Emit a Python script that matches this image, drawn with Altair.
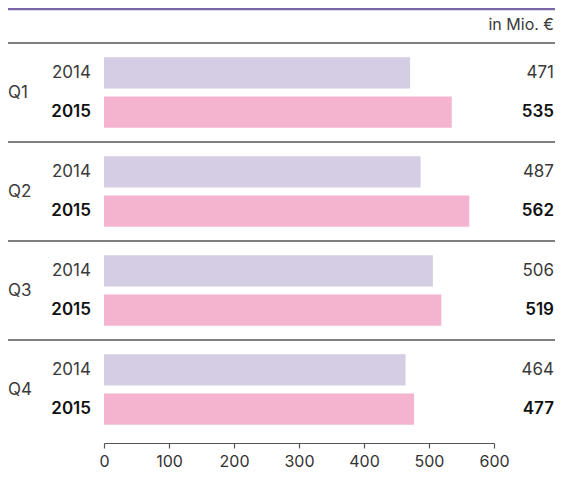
import altair as alt
import pandas as pd

quarters = ["Q1", "Q2", "Q3", "Q4"]
years = ["2014", "2015"]
v2014 = [471, 487, 506, 464]
v2015 = [535, 562, 519, 477]
unit_label = "in Mio. €"
x_ticks = [0, 100, 200, 300, 400, 500, 600]

rows = []
for q, a, b in zip(quarters, v2014, v2015):
    rows.append({"quarter": q, "year": "2014", "value": a})
    rows.append({"quarter": q, "year": "2015", "value": b})
df = pd.DataFrame(rows)
qdf = pd.DataFrame({"quarter": quarters})

FONT = "Inter"
W, H = 547, 435
RX = 546

yscale = alt.Scale(domain=quarters, range=[35, 431], paddingInner=0, paddingOuter=0)
yoff = alt.YOffset("year:N", scale=alt.Scale(domain=years, paddingInner=0.205, paddingOuter=0.36))

base = alt.Chart(df)

bars = base.mark_bar().encode(
    x=alt.X("value:Q", scale=alt.Scale(domain=[0, 600], range=[96, 486], nice=False),
            axis=alt.Axis(values=x_ticks, title=None, grid=False, domainColor="#555",
                          tickColor="#555", tickSize=5, labelFont=FONT, labelFontSize=16,
                          labelColor="#333", labelPadding=5, domainWidth=1.2, tickWidth=1.2,
                          labelFlush=False)),
    y=alt.Y("quarter:N", scale=yscale, axis=None),
    yOffset=yoff,
    color=alt.Color("year:N", scale=alt.Scale(domain=years, range=["#d4cde4", "#f4b4d0"]), legend=None),
)

def year_text(yr, weight, color):
    return base.transform_filter(alt.datum.year == yr).mark_text(
        align="right", baseline="middle", font=FONT, fontSize=17, fontWeight=weight, color=color
    ).encode(
        x=alt.value(83),
        y=alt.Y("quarter:N", scale=yscale, axis=None),
        yOffset=yoff,
        text="year:N",
    )

def value_text(yr, weight, color):
    return base.transform_filter(alt.datum.year == yr).mark_text(
        align="right", baseline="middle", font=FONT, fontSize=17, fontWeight=weight, color=color
    ).encode(
        x=alt.value(RX),
        y=alt.Y("quarter:N", scale=yscale, axis=None),
        yOffset=yoff,
        text="value:Q",
    )

qlabels = alt.Chart(qdf).mark_text(
    align="left", baseline="middle", font=FONT, fontSize=17, color="#3a3a3a"
).encode(
    x=alt.value(0),
    y=alt.Y("quarter:N", scale=yscale, axis=None),
    text="quarter:N",
)

seps = alt.Chart(qdf).mark_rule(color="#555", strokeWidth=1.5).encode(
    y=alt.Y("quarter:N", scale=yscale, axis=None, bandPosition=0),
    x=alt.value(0),
    x2=alt.value(W),
)

topline = alt.Chart(pd.DataFrame({"a": [0]})).mark_rule(color="#7b68ab", strokeWidth=2.5).encode(
    y=alt.value(1), x=alt.value(0), x2=alt.value(W)
)

unit = alt.Chart(pd.DataFrame({"t": [unit_label]})).mark_text(
    align="right", baseline="middle", font=FONT, fontSize=16, color="#3a3a3a"
).encode(x=alt.value(RX), y=alt.value(17), text="t:N")

chart = alt.layer(
    seps, topline, bars,
    year_text("2014", 400, "#3a3a3a"), year_text("2015", 600, "#111"),
    value_text("2014", 400, "#3a3a3a"), value_text("2015", 600, "#111"),
    qlabels, unit,
).properties(
    width=W, height=H,
    autosize=alt.AutoSizeParams(type="none"),
    padding={"left": 0, "top": 0, "right": 0, "bottom": 28},
).configure_view(stroke=None)

chart.save("out.html", embed_options={"renderer": "svg", "actions": False})
